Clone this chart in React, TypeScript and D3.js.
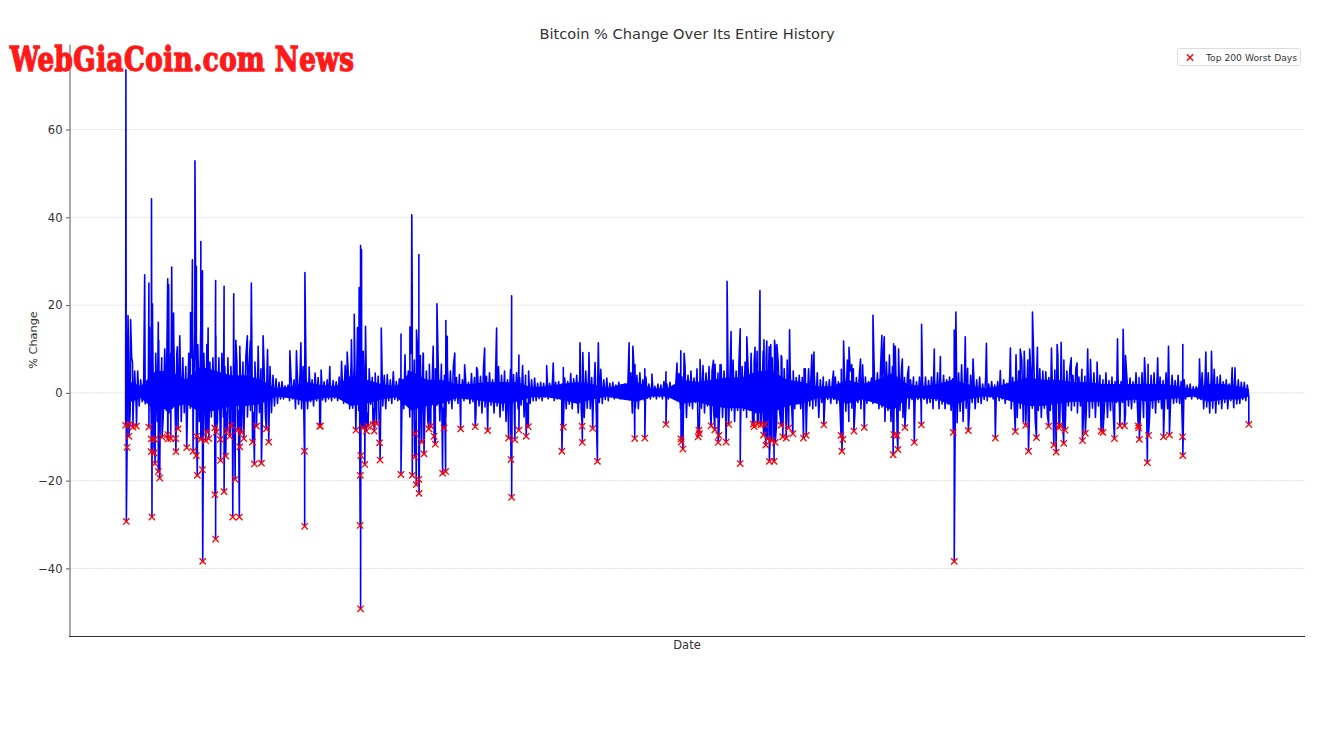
import React, { useEffect, useRef } from 'react';
import * as d3 from 'd3';

// days are counted from the first day of the history, every value is a % change
const lastDay = 4781;
const sampleStepDays = 6.4;
const coreStepDays = 64;

// upper edge of the daily noise, one row = about four months
const noiseHigh = [
  11, 7, 8, 5, 5, 3, 3, 2.5, 7, 11.5,
  9, 12, 8, 10, 6, 9, 12, 9, 13, 8,
  6, 9, 8, 14, 11, 16, 9, 11, 7, 8,
  13, 8, 9, 6, 8, 6, 9.5, 7, 9, 7,
  8.5, 6, 8, 7, 7, 5.5, 6.5, 5, 6, 4,
  3.2, 2.4, 2.6, 1.6, 1.8, 3.5, 3, 5.5, 4.5, 6,
  3.5, 4, 3, 4.5, 3.5, 5.2, 2.5, 3, 2.4, 2.8,
  2.5, 3.6, 3.5, 6.2, 5, 7.5, 6.5, 10, 8, 9.5,
  4.5, 5.5, 3.5, 4.5, 3.8, 6.2, 4, 4.2, 3, 4.8,
  2.6, 3.2, 3, 5.2, 5, 9, 7.5, 11, 8.5, 8.8,
  5, 6.5, 4, 5.5, 4.5, 6.5, 4, 6, 5, 6.2,
  3.5, 4.2, 3, 3.6, 2.4, 4.4, 3.5, 5.2, 3.8, 5.6,
  3.8, 4.6, 3, 3.8, 6, 4, 5, 3, 5.4, 4.2,
  4.6, 3.5, 6.2, 4, 5, 3, 3.4, 2.2, 2.4, 2.2,
  2.6, 2.2, 3.4, 2.4, 2.6, 2, 3.4, 2.6, 4.4, 3.2,
  4, 3.5, 7, 5, 5.2, 3.5, 5, 3.2, 5.4, 3,
  3.4, 2.2, 2.4, 1.8, 2.4, 1.8, 2, 1.6, 4.6, 6.4,
  4, 4.6, 3, 3.6, 2, 2.6, 1.5, 2, 1.8, 2.6,
  2, 2.4, 1.5, 2.6, 4.4, 3.6, 6.4, 4, 5, 3.4,
  5.5, 4.5, 6.2, 4.5, 6, 5, 6.5, 4.5, 6.4, 5,
  7, 5, 7.5, 5, 8, 6, 7, 5.5, 9, 7,
  9.5, 7, 9.5, 8, 10.5, 8, 10.5, 7, 8.5, 5.5,
  7.5, 4.5, 5, 3.5, 4, 3.5, 5.5, 3.5, 5.5, 4,
  4.6, 3, 3.6, 2.5, 3, 2.5, 3.6, 2.5, 5.4, 5,
  7.5, 5, 5.5, 3.5, 4.4, 3.4, 3.6, 2.6, 3.4, 3.2,
  4.6, 5, 9.2, 7, 8.6, 6, 8.6, 5.5, 5.6, 3.5,
  4, 3, 3.6, 2.5, 3.6, 2.5, 3.6, 2.8, 3.6, 3.2,
  4.6, 3.2, 4, 3, 3.6, 3.2, 6.5, 4.5, 6.4, 5,
  5.6, 4, 4.6, 3, 3.6, 2, 3.4, 2, 2.6, 1.8,
  2.6, 2.2, 3, 2.2, 3.6, 3.5, 5.5, 5, 7.5, 5.5,
  7.5, 5, 7.5, 5.5, 5.5, 5, 4.8, 3.5, 6.4, 5.2,
  8.5, 5.5, 7.5, 5, 5.6, 4, 5.6, 3.6, 5.4, 3.8,
  6.4, 4.5, 4.6, 3.8, 4, 3, 4.6, 2.8, 3.6, 2.6,
  3.5, 2.6, 4, 3, 3.4, 2.5, 4.6, 3.5, 4.6, 5.5,
  6.5, 4, 4.6, 3.4, 3.6, 2.8, 4.6, 3, 4, 2.8,
  4, 2.6, 3, 1.8, 2, 1.4, 1.4, 2.4, 4.6, 3.8,
  4.6, 3.6, 5.4, 3.6, 4, 2.5, 3, 2, 4, 3,
  3, 2.4, 2.4, 1.8,
];

// lower edge of the daily noise
const noiseLow = [
  -5, -4, -4.5, -3, -3, -2, -2.5, -2, -5.5, -4,
  -6.5, -4.5, -5.5, -4, -4.5, -3.5, -5.5, -4, -6.5, -4.5,
  -5.5, -3.5, -5.5, -4, -6.5, -5, -6.5, -4, -5.5, -3.5,
  -6.5, -4, -5.5, -4.5, -6.5, -4, -5.5, -4, -5.5, -4,
  -5.5, -4, -4.5, -3.5, -4.5, -4, -5.5, -3.5, -4.5, -3,
  -2.4, -1.4, -1.4, -1, -1.8, -1.4, -3.6, -2.6, -3.6, -2.8,
  -3.6, -2, -3, -1.8, -2.4, -1.6, -2, -1.4, -1.8, -1.2,
  -1.8, -1.4, -2.4, -2, -3.6, -3.5, -6.5, -4, -6.5, -4,
  -4.6, -2.6, -3.6, -2.2, -4.6, -3, -3.6, -1.8, -2.4, -1.5,
  -1.8, -1.4, -3.6, -2.2, -5.5, -4, -6.5, -5, -6.8, -4.5,
  -6.5, -4, -3.6, -2.8, -6.4, -3.5, -5.5, -2.4, -3.6, -1.8,
  -2.4, -1.4, -1.8, -1.4, -2.4, -2, -4.6, -3, -4.6, -3.2,
  -3.6, -2.8, -4.6, -3, -5.5, -4, -6.5, -2.4, -3, -2.2,
  -3.6, -2.8, -5.5, -2.4, -2.4, -1.8, -1.8, -1.3, -1.8, -1,
  -1.4, -1, -1.8, -1.4, -1.4, -1.4, -3.6, -2.6, -3.6, -1.8,
  -4.6, -3.5, -5.6, -3.5, -3.6, -2.4, -4.6, -2.2, -2.4, -1.5,
  -1.8, -1, -1.4, -0.9, -1.4, -0.9, -1.4, -1.4, -4.6, -3.5,
  -3.6, -1.5, -1.8, -1.2, -1.4, -0.9, -1.4, -0.9, -1.4, -0.9,
  -1.4, -0.9, -1.4, -1.2, -3.6, -3.5, -5.6, -3, -3.6, -2.2,
  -5.6, -3.5, -4.6, -3, -5.6, -3.5, -5.6, -3.5, -5.6, -4,
  -6.5, -4, -6.5, -4, -6.8, -4, -5.6, -4, -6.8, -4.5,
  -6.8, -4.5, -6.8, -4.5, -6.8, -4.5, -6.8, -4.5, -6.5, -4,
  -6.5, -3.5, -3.6, -2.2, -3.6, -3, -4.6, -3, -3.6, -3,
  -5.6, -2.2, -2.4, -1.5, -2.4, -1.5, -2.4, -2.2, -6.5, -4.2,
  -6.5, -3.5, -4.6, -2.2, -3.6, -2.2, -2.4, -1.5, -2.4, -2.2,
  -3.6, -3.2, -6.5, -4, -6.5, -4.2, -6.8, -4, -5.6, -3,
  -3.6, -1.5, -2.4, -1.5, -2.4, -1.5, -2.4, -2.2, -3.6, -1.8,
  -3.6, -2.5, -3.6, -2.5, -4, -3.5, -6.8, -4.2, -6.5, -3.5,
  -5.6, -2.2, -3.6, -2.2, -2.4, -1.5, -1.8, -1, -1.4, -0.8,
  -1.8, -1.4, -2.4, -1.5, -3.6, -3, -5.6, -3.5, -6.5, -4,
  -6.8, -3.5, -6.5, -4, -5.6, -3.5, -4.6, -4, -6.8, -4.2,
  -6.8, -4, -6.5, -3, -4, -3, -4.6, -3, -5.6, -3.5,
  -5.6, -3.5, -5.6, -3, -4.6, -3.2, -5.6, -4, -5.8, -2.2,
  -3.6, -2.2, -4.6, -3, -3.6, -2.2, -3.6, -3.5, -5.6, -3,
  -5.6, -3.5, -4.6, -2.2, -3.6, -2.2, -3.6, -1.5, -2.4, -2.2,
  -2.4, -1.2, -1.4, -0.8, -1.4, -0.8, -1.4, -1.5, -3.6, -3.2,
  -4.6, -3.5, -4.6, -2.5, -3.6, -2.2, -3.6, -1.8, -3.4, -2.5,
  -2.4, -1.5, -1.8, -0.8,
];

// the band the daily line fills in solid, one value every 64 days
const coreHigh = [
  3, 1.5, 5, 5, 3, 6, 5, 4, 4, 3, 1, 1.5, 2.5, 1.8, 1.5, 4, 3, 2, 1.5, 5, 3, 3, 2, 2, 2.5, 2.5, 2.5, 1.2, 1.5, 2, 2.5, 2, 1, 2, 2.5, 1, 1, 3,
  2.5, 3, 3.5, 3.5, 5, 5, 3, 2.5, 1.5, 1.5, 3, 2, 3, 4.5, 2, 1.5, 2, 3, 2, 1, 1.5, 2.5, 3.5, 3, 3, 2.5, 2.5, 2, 2, 2, 2, 2, 1.5, 0.8, 2, 2, 1.5, 0.8,
];
const coreLow = [
  -2.5, -1.2, -4, -3.5, -2.5, -4.5, -4, -3, -3, -2.5, -0.8, -1.2, -2, -1.2, -1, -3, -2.5, -1.5, -1, -4, -3, -2.5, -1.2, -1.5, -2, -2.5, -2, -1, -1, -1.5, -2.5, -1.5, -0.8, -1.5, -2, -0.8, -0.8, -2.5,
  -2, -3, -3.5, -3.5, -4.5, -4.5, -3, -2.5, -1.2, -1.2, -2.5, -1.5, -2.5, -4, -1.2, -1.2, -1.5, -3, -1.5, -0.8, -1, -2, -3, -3, -2.5, -2, -2, -2, -2, -1.5, -2, -1.5, -1.2, -0.8, -2, -1.5, -1.5, -0.8,
];

// big up days
const bestDays = [
  1, 10, 21, 29, 81, 99, 102, 110, 114, 139, 179, 183, 196, 204, 220, 276, 284, 295, 301, 320, 327, 351, 382, 383,
  419, 460, 469, 486, 518, 531, 535, 564, 585, 604, 699, 727, 746, 763, 781, 869, 919, 943, 961, 973, 987, 994, 1000,
  1004, 1021, 1088, 1172, 1189, 1210, 1218, 1220, 1238, 1248, 1266, 1309, 1325, 1363, 1369, 1401, 1443, 1494, 1528,
  1579, 1643, 1674, 1792, 1820, 1863, 1934, 1946, 1972, 1998, 2012, 2143, 2159, 2168, 2210, 2240, 2300, 2347, 2363,
  2377, 2445, 2502, 2530, 2560, 2577, 2616, 2644, 2679, 2700, 2717, 2729, 2746, 2762, 2772, 2793, 2826, 2888, 2907,
  2921, 2930, 3013, 3056, 3079, 3091, 3128, 3137, 3181, 3219, 3229, 3269, 3276, 3290, 3306, 3333, 3388, 3442, 3468,
  3527, 3534, 3574, 3607, 3664, 3723, 3766, 3790, 3808, 3825, 3848, 3860, 3881, 3941, 3965, 3982, 4025, 4050, 4095,
  4107, 4135, 4222, 4246, 4256, 4337, 4393, 4439, 4500, 4571, 4598, 4622, 4710, 4722,
];
const bestValues = [
  73.6, 17.6, 16.7, 7, 26.9, 25, 15, 44.2, 20.3, 16.1, 26, 24.7, 28.7, 18.2, 10.5, 18.3, 30.3, 52.9, 28.8, 34.5, 27.8, 14.8, 16, 25.6,
  24.3, 22.6, 12, 10.6, 13, 11.9, 25, 10.6, 13, 9.9, 9.6, 9.6, 11.4, 27.4, 5.9, 6, 7.2, 9.3, 12.1, 17.9, 14.9, 24, 33.6,
  32.6, 15.2, 14.8, 13.4, 8.7, 15, 40.6, 20.5, 14.3, 31.5, 9.1, 10.6, 20.3, 16.5, 12.9, 9.1, 6.4, 5.8, 10.2,
  14.8, 22.1, 8.6, 6.2, 6.8, 5.8, 11.4, 9.2, 9.2, 6.9, 11.4, 11.4, 10.6, 6.4, 5.5, 4.3, 4.8, 6.8, 9.6,
  9, 7.6, 7.4, 6.4, 25.4, 14, 14.6, 12.8, 10.4, 23.3, 12.1, 11.8, 11, 12, 11, 8, 14.4, 5.5, 5.5,
  8.7, 9.3, 5, 11.8, 10.4, 6.4, 7.7, 6.4, 17.7, 13.1, 12.8, 11.2, 10.6, 10, 7.7, 6, 15.6, 10, 8.3,
  14.3, 18.4, 12.8, 7.7, 11.3, 5.1, 10.2, 8.7, 10, 9.5, 10, 18.4, 10.4, 10.2, 11, 11.5, 8, 6.8, 10,
  7.6, 7, 12.3, 14.5, 8.5, 8, 8, 10.6, 11, 7.7, 9.3, 9.5, 5.7, 5.7,
];

// the 200 worst days
const worstDays = [
  0, 3, 6, 14, 17, 31, 46, 99, 109, 112, 109, 121, 123, 125, 139, 145, 155, 179, 180, 192, 213, 214, 223, 260, 287, 301, 302, 305,
  320, 327, 328, 341, 346, 354, 379, 380, 383, 386, 403, 404, 419, 426, 432, 443, 447, 456, 466, 477, 484, 486, 493, 503, 540, 548,
  557, 578, 599, 609, 761, 762, 826, 829, 980, 998, 999, 1000, 1001, 1011, 1018, 1025, 1032, 1053, 1058, 1068, 1081, 1083, 1172,
  1220, 1231, 1232, 1237, 1248, 1249, 1260, 1270, 1291, 1299, 1313, 1318, 1349, 1355, 1362, 1426, 1488, 1541, 1630, 1640, 1643,
  1657, 1674, 1705, 1714, 1857, 1863, 1943, 1944, 1988, 2008, 2167, 2210, 2300, 2364, 2365, 2372, 2437, 2440, 2442, 2492, 2508,
  2522, 2525, 2556, 2567, 2616, 2672, 2675, 2689, 2704, 2715, 2721, 2725, 2732, 2740, 2751, 2760, 2765, 2790, 2797, 2812, 2822,
  2840, 2885, 2897, 2972, 3045, 3049, 3053, 3100, 3144, 3267, 3270, 3284, 3287, 3317, 3357, 3387, 3523, 3527, 3587, 3702, 3787,
  3831, 3843, 3877, 3929, 3951, 3961, 3973, 3976, 3993, 3999, 4073, 4085, 4152, 4160, 4209, 4232, 4252, 4310, 4312, 4315, 4349,
  4354, 4418, 4443, 4499, 4500, 4781,
];
const worstValues = [
  -7.4, -29.3, -12.4, -9.9, -7.2, -7.8, -7.6, -7.8, -10.5, -28.3, -13.4, -13.7, -10.6, -16.1, -17.9, -19.4, -10.1, -9.5, -10.5, -10.4, -10.4, -13.4, -8.2, -12.5, -13.3, -14.3, -9.9, -18.8,
  -10.6, -17.5, -38.4, -10.9, -8.9, -10.4, -8, -23.2, -33.3, -8.9, -10.6, -15.4, -22.5, -14.4, -8.7, -9.9, -7.4, -28.3, -19.7, -8.5, -28.3, -12.3, -9, -10.4, -11.2, -16.2,
  -7.6, -16, -8.2, -11.2, -13.3, -30.4, -7.6, -7.6, -8.5, -30.2, -18.8, -49.2, -14.3, -8, -16.3, -8.7, -7.6, -7.2, -8.7, -7, -11.4, -15.3, -18.6,
  -18.8, -14.6, -9.3, -20.9, -19.7, -22.9, -11.2, -13.9, -8.2, -7.6, -9.9, -11.7, -18.3, -8, -17.9, -8.2, -7.7, -8.6, -10.3, -15.2, -23.8,
  -10.7, -8.5, -9.9, -7.7, -13.3, -7.8, -7.6, -11.3, -8.1, -15.6, -10.4, -10.3, -7.2, -10.5, -11.2, -12.8, -10, -8.5, -9.3, -7.5, -8.4,
  -11.3, -9.7, -11.2, -7.2, -16.1, -7.1, -7.7, -7.1, -7.3, -9.6, -7.2, -11.9, -10.5, -15.6, -10.9, -15.6, -11.3, -7.4, -10, -10.3, -8,
  -9.3, -10.3, -9.7, -7.3, -9.7, -13.3, -10.6, -8.7, -7.9, -14.1, -9.5, -9.7, -12.9, -7.9, -11.3, -7.3, -9, -38.4, -8.6, -10.3, -8.8,
  -7.4, -13.3, -10.2, -7.6, -11.9, -13.5, -8, -7.4, -11.5, -8.5, -10.9, -9.2, -8.7, -9, -10.4, -7.5, -7.5, -7.5, -8, -10.6, -15.9,
  -9.7, -10, -9.6, -10, -14.3, -7.2,
];

const zip = (days: number[], values: number[]) => days.map((day, i) => ({ day, value: values[i] }));

const noise = noiseHigh.flatMap((high, i) => [
  { day: i * 2 * sampleStepDays, value: high },
  { day: (i * 2 + 1) * sampleStepDays, value: noiseLow[i] },
]);
const worst = zip(worstDays, worstValues);
const series = [...noise, ...zip(bestDays, bestValues), ...worst].sort((a, b) => d3.ascending(a.day, b.day));
const core = coreHigh.map((high, i) => ({ day: Math.min(i * coreStepDays, lastDay), high, low: coreLow[i] }));

const font = 'DejaVu Sans, sans-serif';

const App = () => {
  const axisRef = useRef<SVGGElement>(null);

  const xPad = lastDay * 0.05;
  const x = d3.scaleLinear().domain([-xPad, lastDay + xPad]).range([69.5, 1305]);
  const y = d3.scaleLinear().domain([-55.4, 79.5]).range([636, 44]);
  const yTicks = [-40, -20, 0, 20, 40, 60];

  useEffect(() => {
    const g = d3.select(axisRef.current);
    g.selectAll('*').remove();
    g.call(d3.axisLeft(y).tickValues(yTicks).tickSize(3.5).tickSizeOuter(0).tickPadding(3.5) as any);
    g.attr('font-family', font).attr('font-size', 11.5);
    g.selectAll('.tick text').attr('fill', '#333');
    g.selectAll('.tick line').attr('stroke', '#555');
    g.select('.domain').attr('stroke', '#555').attr('stroke-width', 1);
  }, []);

  const line = d3.line<{ day: number; value: number }>().x(d => x(d.day)).y(d => y(d.value));
  const band = d3.area<{ day: number; high: number; low: number }>().x(d => x(d.day)).y0(d => y(d.low)).y1(d => y(d.high));
  const cross = d3.symbol(d3.symbolTimes, 28)() as string;

  return (
    <svg width={1332} height={749} style={{ position: 'absolute', left: 0, top: 0, background: '#fff' }}>
      {yTicks.map(t => (
        <line key={t} x1={69.5} x2={1305} y1={y(t)} y2={y(t)} stroke="#d4d4d4" strokeWidth={0.8} strokeDasharray="2 1.2" />
      ))}

      <path d={band(core) as string} fill="#0000ff" />
      <path d={line(series) as string} fill="none" stroke="#0000ff" strokeWidth={1.6} strokeLinejoin="round" />

      {worst.map((d, i) => (
        <path key={i} d={cross} transform={`translate(${x(d.day)},${y(d.value)})`} fill="none" stroke="#ff0000" strokeWidth={1.3} />
      ))}

      <g ref={axisRef} transform="translate(69.5,0)" />
      <line x1={69} x2={1305} y1={636.5} y2={636.5} stroke="#333" strokeWidth={1} />

      <text x={687} y={39} textAnchor="middle" fontFamily={font} fontSize={14.6} fill="#333">
        Bitcoin % Change Over Its Entire History
      </text>
      <text x={687} y={649} textAnchor="middle" fontFamily={font} fontSize={11.5} fill="#333">Date</text>
      <text transform="translate(37,340) rotate(-90)" textAnchor="middle" fontFamily={font} fontSize={11.3} fill="#333">
        % Change
      </text>

      <rect x={1177.5} y={48.5} width={123} height={17} rx={2} fill="#fff" stroke="#dcdcdc" />
      <path d={cross} transform="translate(1190,57.5)" fill="none" stroke="#ff0000" strokeWidth={1.3} />
      <text x={1206} y={60.5} fontFamily={font} fontSize={9.2} fill="#333">Top 200 Worst Days</text>

      <text
        transform="translate(10,71) scale(1,1.15)"
        fontFamily="'DejaVu Serif Condensed', 'DejaVu Serif', serif"
        fontWeight={700}
        fontSize={29}
        textLength={344}
        lengthAdjust="spacing"
        fill="#ff1a1a"
        stroke="#ff1a1a"
        strokeWidth={1.2}
      >
        WebGiaCoin.com News
      </text>
    </svg>
  );
};

export default App;
